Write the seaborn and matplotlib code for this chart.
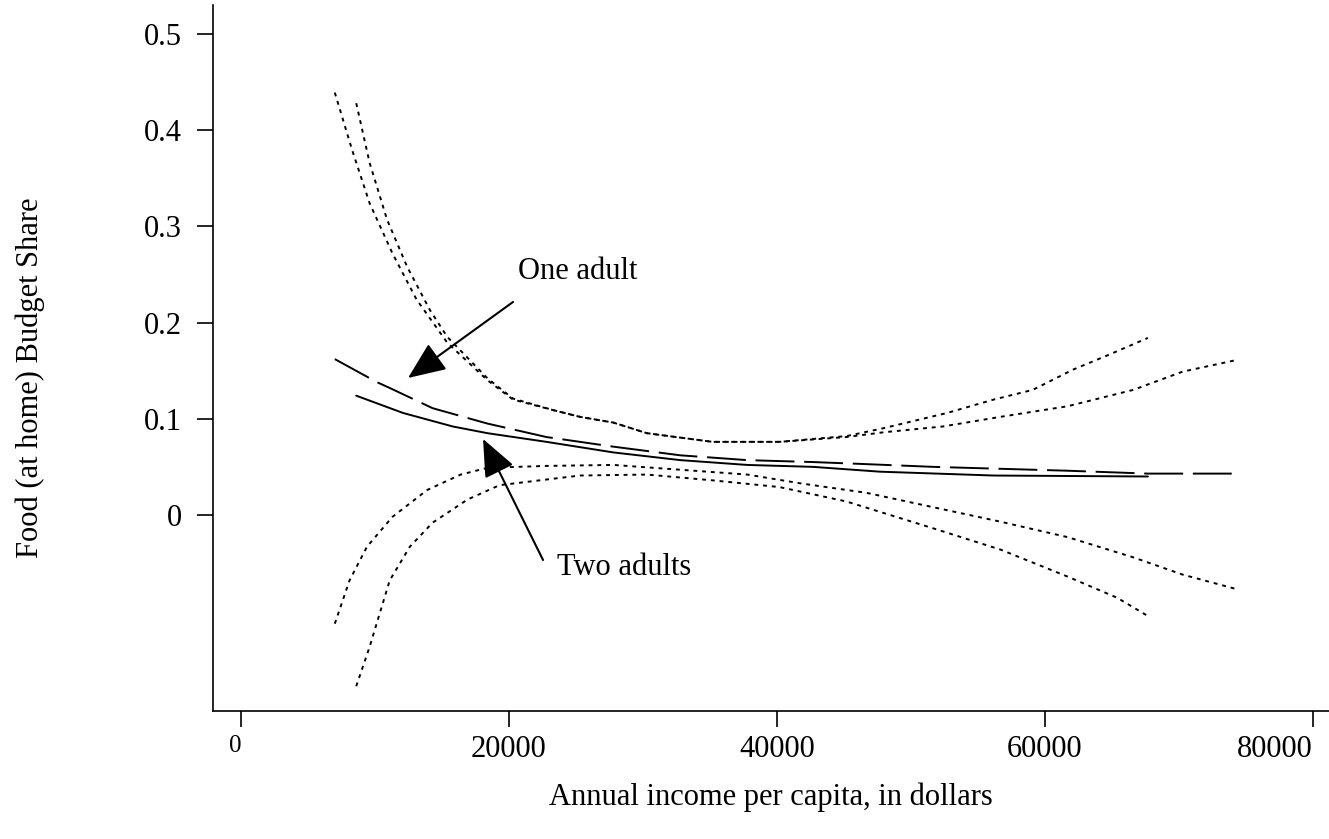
import numpy as np
import pandas as pd
import matplotlib
matplotlib.use("Agg")
import matplotlib.pyplot as plt
import matplotlib.transforms as mtransforms
import seaborn as sns

# values
one_mean_x = [7000, 10150, 11100, 14300, 18400, 22800, 27800, 32800, 37800, 42700,
              46400, 51700, 56700, 61700, 67700, 74300]
one_mean_y = [0.162, 0.138, 0.132, 0.111, 0.095, 0.081, 0.071, 0.062, 0.057, 0.055,
              0.053, 0.050, 0.048, 0.046, 0.043, 0.043]

two_mean_x = [8600, 12100, 15800, 18400, 22800, 27800, 32800, 37800, 42700, 47700,
              56200, 67700]
two_mean_y = [0.124, 0.106, 0.092, 0.085, 0.076, 0.065, 0.057, 0.052, 0.050, 0.045,
              0.041, 0.040]

one_upper_x = [7000, 8300, 9600, 11300, 13100, 15400, 18400, 20300, 23300, 25300,
               27800, 30300, 35200, 40200, 45200, 48000, 52400, 56700, 61700, 66600,
               70300, 74300]
one_upper_y = [0.439, 0.379, 0.324, 0.272, 0.224, 0.179, 0.140, 0.120, 0.109, 0.102,
               0.096, 0.085, 0.076, 0.076, 0.081, 0.086, 0.092, 0.102, 0.113, 0.130,
               0.149, 0.161]

two_upper_x = [8600, 9600, 10900, 12400, 14100, 15400, 18400, 20300, 23300, 25300,
               27800, 30300, 35200, 40200, 45200, 47900, 52700, 56200, 59100, 62100,
               64700, 67700]
two_upper_y = [0.428, 0.366, 0.307, 0.258, 0.213, 0.185, 0.142, 0.121, 0.109, 0.102,
               0.096, 0.085, 0.076, 0.076, 0.082, 0.090, 0.106, 0.120, 0.130, 0.151,
               0.166, 0.184]

one_lower_x = [7000, 8100, 9400, 11300, 13900, 16400, 18400, 22800, 27800, 32800,
               37800, 41700, 46700, 51700, 56700, 61700, 66600, 70300, 74300]
one_lower_y = [-0.113, -0.068, -0.033, -0.002, 0.026, 0.042, 0.049, 0.051, 0.052, 0.047,
               0.042, 0.033, 0.023, 0.008, -0.007, -0.023, -0.044, -0.062, -0.077]

two_lower_x = [8600, 9600, 11100, 12600, 14300, 16900, 19300, 25300, 30300, 35200,
               40200, 45200, 51700, 56700, 61700, 65400, 67700]
two_lower_y = [-0.178, -0.137, -0.068, -0.033, -0.008, 0.016, 0.031, 0.041, 0.042, 0.036,
               0.029, 0.014, -0.014, -0.036, -0.064, -0.086, -0.105]

x_ticks = [0, 20000, 40000, 60000, 80000]
x_tick_labels = ["0", "20000", "40000", "60000", "80000"]
y_ticks = [0, 0.1, 0.2, 0.3, 0.4, 0.5]
y_tick_labels = ["0", "0.1", "0.2", "0.3", "0.4", "0.5"]

sns.set_style("ticks")
plt.rcParams['font.family'] = ['Liberation Serif', 'DejaVu Serif']
plt.rcParams.update({
    "text.color": "black",
    "axes.labelcolor": "black",
    "axes.edgecolor": "black",
    "xtick.color": "black",
    "ytick.color": "black",
})
fs = 22

fig = plt.figure(figsize=(13.29, 8.39), dpi=100)
ax = fig.add_axes([0.1603, 0.1526, 0.8397, 0.8414])

lw = 1.4
bands = [(one_upper_x, one_upper_y), (two_upper_x, two_upper_y),
         (one_lower_x, one_lower_y), (two_lower_x, two_lower_y)]
for bx, by in bands:
    sns.lineplot(x=bx, y=by, ax=ax, color="black", linewidth=lw,
                 linestyle=(0, (2, 2.5)))

sns.lineplot(x=one_mean_x, y=one_mean_y, ax=ax, color="black", linewidth=lw,
             linestyle=(0, (20, 5)))
sns.lineplot(x=two_mean_x, y=two_mean_y, ax=ax, color="black", linewidth=lw)

arrow = dict(arrowstyle="-|>,head_length=1.3,head_width=0.55", color="black",
             lw=1.5, mutation_scale=18, shrinkA=0, shrinkB=0)
ax.annotate("", xy=(12467, 0.1424), xytext=(20306, 0.2214), arrowprops=arrow)
ax.annotate("", xy=(18066, 0.079), xytext=(22546, -0.0468), arrowprops=arrow)
ax.text(20680, 0.2526, "One adult", fontsize=fs, ha="left", va="center")
ax.text(23590, -0.055, "Two adults", fontsize=fs, ha="left", va="center")

ax.set_xlim(-2090, 81220)
ax.set_ylim(-0.2037, 0.530)
ax.set_xticks(x_ticks)
ax.set_xticklabels(x_tick_labels, fontsize=fs)
ax.set_yticks(y_ticks)
ax.set_yticklabels(y_tick_labels, fontsize=fs)

# first x label is smaller and sits left of its tick, last one ends at its tick
xlabs = ax.get_xticklabels()
xlabs[0].set_fontsize(18)
xlabs[0].set_horizontalalignment("right")
xlabs[0].set_transform(xlabs[0].get_transform()
                       + mtransforms.ScaledTranslation(-0.04, 0, fig.dpi_scale_trans))
xlabs[-1].set_horizontalalignment("right")

down = mtransforms.ScaledTranslation(0, -0.08, fig.dpi_scale_trans)
for lab in ax.get_yticklabels():
    lab.set_transform(lab.get_transform() + down)

ax.tick_params(axis="y", length=11.5, width=1.2, pad=11)
ax.tick_params(axis="x", length=11.5, width=1.2, pad=6)
for side in ["left", "bottom"]:
    ax.spines[side].set_linewidth(1.2)
sns.despine(ax=ax)

ax.set_xlabel("Annual income per capita, in dollars", fontsize=fs, labelpad=13)
ax.set_ylabel("Food (at home) Budget Share", fontsize=fs)
ax.yaxis.set_label_coords(-0.151, 0.472)

fig.savefig("out.png", dpi=100)
